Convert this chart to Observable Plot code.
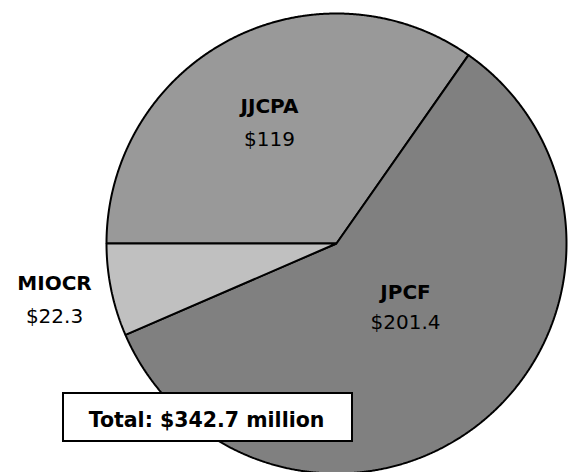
<!DOCTYPE html>
<html>
<head>
<meta charset="utf-8">
<script src="https://cdn.jsdelivr.net/npm/d3@7"></script>
<script src="https://cdn.jsdelivr.net/npm/@observablehq/plot@0.6"></script>
<style>
  html, body { margin: 0; padding: 0; background: #fff; }
</style>
</head>
<body>
<div id="chart"></div>
<script>
// ---- data ----
const categories = ["JJCPA", "JPCF", "MIOCR"];
const values = [119, 201.4, 22.3];
const valueLabels = ["$119", "$201.4", "$22.3"];
const colors = ["#999999", "#808080", "#c0c0c0"];
const totalLabel = "Total: $342.7 million";

// ---- layout (not data) ----
const W = 573, H = 472;
const cx = 336, cy = 243, R = 230;
const labelPos = {
  JJCPA: {x: 269, y: 112, vy: 145},
  JPCF: {x: 405, y: 298, vy: 328},
  MIOCR: {x: 54, y: 289, vy: 322}
};
const box = {x1: 63, x2: 352, y1: 393, y2: 441};

// pie geometry from values
const pie = d3.pie().sort(null).startAngle(-Math.PI / 2).endAngle(1.5 * Math.PI);
const arcs = pie(values);
const slicePts = [];
arcs.forEach((a, i) => {
  const cat = categories[i];
  slicePts.push({cat, px: cx, py: cy});
  const n = Math.max(2, Math.ceil((a.endAngle - a.startAngle) / (Math.PI / 720)));
  for (let k = 0; k <= n; k++) {
    const t = a.startAngle + (a.endAngle - a.startAngle) * k / n;
    slicePts.push({cat, px: cx + R * Math.sin(t), py: cy - R * Math.cos(t)});
  }
});

const labels = categories.map((c, i) => ({
  cat: c, value: valueLabels[i],
  lx: labelPos[c].x, ly: labelPos[c].y, vy: labelPos[c].vy
}));

const font = "'DejaVu Sans', sans-serif";

const chart = Plot.plot({
  width: W,
  height: H,
  margin: 0,
  x: {domain: [0, W], range: [0, W], axis: null},
  y: {domain: [0, H], range: [0, H], axis: null},
  color: {domain: categories, range: colors},
  style: {fontFamily: font, background: "white", overflow: "visible"},
  marks: [
    Plot.line(slicePts, {
      x: "px", y: "py", z: "cat", fill: "cat",
      stroke: "black", strokeWidth: 2, curve: "linear-closed", strokeLinejoin: "miter"
    }),
    Plot.text(labels, {
      x: "lx", y: "ly", text: "cat", fontWeight: "bold", fontSize: 20,
      fill: "black", textAnchor: "middle", lineAnchor: "bottom"
    }),
    Plot.text(labels, {
      x: "lx", y: "vy", text: "value", fontSize: 20,
      fill: "black", textAnchor: "middle", lineAnchor: "bottom"
    }),
    Plot.rect([box], {
      x1: "x1", x2: "x2", y1: "y1", y2: "y2",
      fill: "white", stroke: "black", strokeWidth: 2
    }),
    Plot.text([totalLabel], {
      x: 206, y: 426, text: d => d,
      fontWeight: "bold", fontSize: 20.5, fill: "black",
      textAnchor: "middle", lineAnchor: "bottom"
    })
  ]
});

document.getElementById("chart").appendChild(chart);
</script>
</body>
</html>
